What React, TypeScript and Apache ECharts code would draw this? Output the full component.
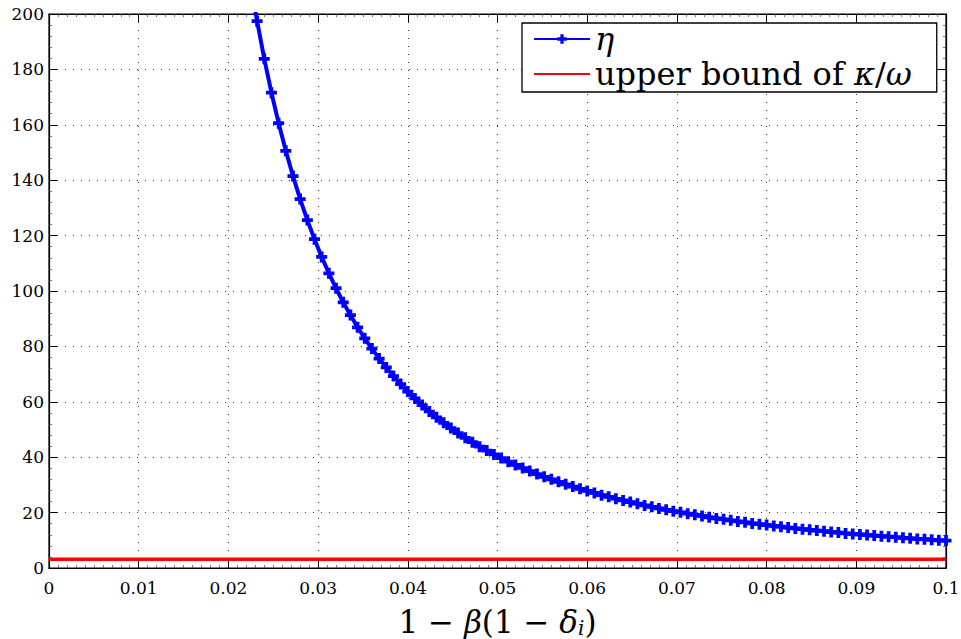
import React, { useEffect, useRef } from 'react';
import * as echarts from 'echarts';

const etaX = [
  0.0224, 0.0232, 0.024, 0.0248, 0.0256, 0.0264, 0.0272, 0.028, 0.0288, 0.0296,
  0.0304, 0.0312, 0.032, 0.0328, 0.0336, 0.0344, 0.0352, 0.036, 0.0368, 0.0376,
  0.0384, 0.0392, 0.04, 0.0408, 0.0416, 0.0424, 0.0432, 0.044, 0.0448, 0.0456,
  0.0464, 0.0472, 0.048, 0.0488, 0.0496, 0.0504, 0.0512, 0.052, 0.0528, 0.0536,
  0.0544, 0.0552, 0.056, 0.0568, 0.0576, 0.0584, 0.0592, 0.06, 0.0608, 0.0616,
  0.0624, 0.0632, 0.064, 0.0648, 0.0656, 0.0664, 0.0672, 0.068, 0.0688, 0.0696,
  0.0704, 0.0712, 0.072, 0.0728, 0.0736, 0.0744, 0.0752, 0.076, 0.0768, 0.0776,
  0.0784, 0.0792, 0.08, 0.0808, 0.0816, 0.0824, 0.0832, 0.084, 0.0848, 0.0856,
  0.0864, 0.0872, 0.088, 0.0888, 0.0896, 0.0904, 0.0912, 0.092, 0.0928, 0.0936,
  0.0944, 0.0952, 0.096, 0.0968, 0.0976, 0.0984, 0.0992, 0.1,
];

const etaY = [
  212.5, 197.4, 183.8, 171.6, 160.6, 150.6, 141.5, 133.2, 125.6, 118.7,
  112.3, 106.4, 101.0, 95.9, 91.3, 86.9, 82.9, 79.2, 75.6, 72.4,
  69.3, 66.4, 63.7, 61.2, 58.8, 56.5, 54.4, 52.4, 50.5, 48.7,
  47.0, 45.4, 43.8, 42.4, 41.0, 39.7, 38.4, 37.2, 36.1, 35.0,
  33.9, 32.9, 32.0, 31.1, 30.2, 29.4, 28.6, 27.8, 27.1, 26.3,
  25.7, 25.0, 24.4, 23.8, 23.2, 22.6, 22.1, 21.5, 21.0, 20.5,
  20.1, 19.6, 19.2, 18.8, 18.3, 17.9, 17.6, 17.2, 16.8, 16.5,
  16.1, 15.8, 15.5, 15.2, 14.9, 14.6, 14.3, 14.0, 13.8, 13.5,
  13.3, 13.0, 12.8, 12.5, 12.3, 12.1, 11.9, 11.7, 11.5, 11.3,
  11.1, 10.9, 10.7, 10.5, 10.4, 10.2, 10.0, 9.9,
];

const boundX = [0, 0.1];
const boundY = [3.14, 3.14];

const X_MIN = 0;
const X_MAX = 0.1;
const X_STEP = 0.01;
const Y_MIN = 0;
const Y_MAX = 200;
const Y_STEP = 20;

const ETA_NAME = 'η';
const BOUND_NAME = 'upper bound of κ/ω';

const FONT = '"DejaVu Serif", "Liberation Serif", serif';
const PLUS = 'path://M3.3,0H6.7V3.3H10V6.7H6.7V10H3.3V6.7H0V3.3H3.3Z';

export default function App() {
  const ref = useRef<HTMLDivElement>(null);

  useEffect(() => {
    if (!ref.current) return;
    const chart = echarts.init(ref.current, null, { renderer: 'svg' });

    const tickStyle = { color: '#000', width: 1 };
    const commonX = {
      type: 'value' as const,
      min: X_MIN,
      max: X_MAX,
      interval: X_STEP,
    };
    const commonY = {
      type: 'value' as const,
      min: Y_MIN,
      max: Y_MAX,
      interval: Y_STEP,
    };

    chart.setOption({
      animation: false,
      backgroundColor: '#fff',
      grid: {
        left: 49,
        right: 15,
        top: 14,
        bottom: 71,
        containLabel: false,
        outerBoundsMode: 'none',
        show: true,
        borderColor: '#000',
        borderWidth: 1.2,
        backgroundColor: '#fff',
      },
      legend: {
        left: 522,
        top: 23,
        orient: 'vertical',
        backgroundColor: '#fff',
        borderColor: '#000',
        borderWidth: 1.3,
        borderRadius: 0,
        padding: [0, 25, 2, 11],
        itemGap: 3,
        itemWidth: 56,
        itemHeight: 12,
        data: [
          { name: ETA_NAME },
          { name: BOUND_NAME, itemStyle: { opacity: 0 } },
        ],
        formatter: (name: string) =>
          name === ETA_NAME ? '{i|η}' : 'upper bound of {i|κ}/{i|ω}',
        textStyle: {
          fontFamily: FONT,
          fontSize: 32,
          lineHeight: 30,
          color: '#000',
          rich: {
            i: { fontFamily: FONT, fontSize: 32, lineHeight: 30, fontStyle: 'italic', color: '#000' },
          },
        },
      },
      xAxis: [
        {
          ...commonX,
          position: 'bottom',
          name: '1 − {it|β}(1 − {it|δ}{sub|i})',
          nameLocation: 'middle',
          nameGap: 38,
          nameTextStyle: {
            fontFamily: FONT,
            fontSize: 31,
            color: '#000',
            rich: {
              it: { fontFamily: FONT, fontSize: 31, fontStyle: 'italic', color: '#000' },
              sub: {
                fontFamily: FONT,
                fontSize: 20,
                fontStyle: 'italic',
                color: '#000',
                verticalAlign: 'bottom',
                padding: [12, 0, 0, 0],
              },
            },
          },
          axisLine: { show: true, onZero: false, lineStyle: { color: '#000', width: 1.2 } },
          axisTick: { show: true, inside: true, length: 8, lineStyle: tickStyle },
          minorTick: { show: true, splitNumber: 10, length: 3, lineStyle: { color: '#555', width: 0.8 } },
          axisLabel: {
            show: true,
            margin: 11,
            fontFamily: FONT,
            fontSize: 17,
            color: '#000',
            formatter: (v: number) => (v === 0 ? '0' : String(+v.toFixed(2))),
          },
          splitLine: {
            show: true,
            lineStyle: { color: '#333', width: 1, type: [1, 7] },
          },
        },
        {
          ...commonX,
          position: 'top',
          axisLine: { show: true, onZero: false, lineStyle: { color: '#000', width: 1.2 } },
          axisTick: { show: true, inside: true, length: 8, lineStyle: tickStyle },
          minorTick: { show: true, splitNumber: 10, length: 3, lineStyle: { color: '#555', width: 0.8 } },
          axisLabel: { show: false },
          splitLine: { show: false },
        },
      ],
      yAxis: [
        {
          ...commonY,
          position: 'left',
          axisLine: { show: true, onZero: false, lineStyle: { color: '#000', width: 1.2 } },
          axisTick: { show: true, inside: true, length: 8, lineStyle: tickStyle },
          minorTick: { show: true, splitNumber: 5, length: 3, lineStyle: { color: '#555', width: 0.8 } },
          axisLabel: {
            show: true,
            margin: 5,
            fontFamily: FONT,
            fontSize: 17,
            color: '#000',
          },
          splitLine: {
            show: true,
            lineStyle: { color: '#333', width: 1, type: [1, 7] },
          },
        },
        {
          ...commonY,
          position: 'right',
          axisLine: { show: true, onZero: false, lineStyle: { color: '#000', width: 1.2 } },
          axisTick: { show: true, inside: true, length: 8, lineStyle: tickStyle },
          minorTick: { show: true, splitNumber: 5, length: 3, lineStyle: { color: '#555', width: 0.8 } },
          axisLabel: { show: false },
          splitLine: { show: false },
        },
      ],
      series: [
        {
          name: ETA_NAME,
          type: 'line',
          xAxisIndex: 0,
          yAxisIndex: 0,
          data: etaX.map((x, i) => [x, etaY[i]]),
          clip: true,
          symbol: PLUS,
          symbolSize: 11,
          showSymbol: true,
          color: '#0000ff',
          itemStyle: { color: '#0000ff' },
          lineStyle: { color: '#0000ff', width: 4 },
          z: 3,
        },
        {
          name: BOUND_NAME,
          type: 'line',
          xAxisIndex: 0,
          yAxisIndex: 0,
          data: boundX.map((x, i) => [x, boundY[i]]),
          clip: true,
          symbol: 'none',
          showSymbol: false,
          color: '#ff0000',
          lineStyle: { color: '#ff0000', width: 3.5 },
          z: 2,
        },
      ],
    });

    return () => {
      chart.dispose();
    };
  }, []);

  return (
    <div
      ref={ref}
      style={{
        position: 'fixed',
        left: 0,
        top: 0,
        width: 961,
        height: 639,
        background: '#fff',
      }}
    />
  );
}
